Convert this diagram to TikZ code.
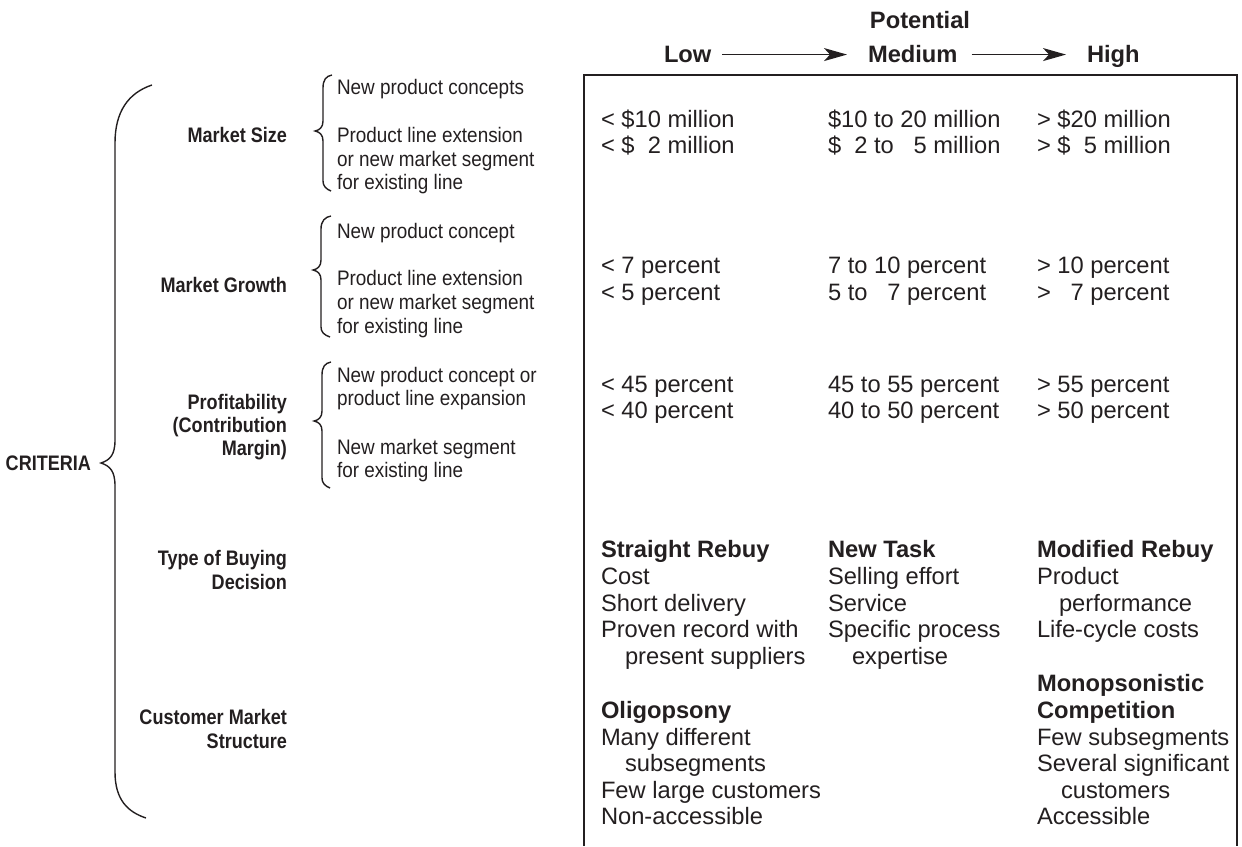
\documentclass[tikz,border=0pt]{standalone}
\usepackage{fontspec}
\setmainfont{Liberation Sans}
\newfontfamily\condreg[FakeStretch=0.9]{Liberation Sans}
\newfontfamily\condbold[FakeStretch=0.86]{Liberation Sans Bold}
\usetikzlibrary{arrows.meta}
\definecolor{ink}{RGB}{35,31,32}
\begin{document}
\begin{tikzpicture}[x=1pt,y=-1pt,
  every node/.style={inner sep=0pt,outer sep=0pt,text=ink},
  lbl/.style={anchor=base east,font=\condbold\fontsize{21}{23}\selectfont},
  sub/.style={anchor=base west,font=\condreg\fontsize{21}{23}\selectfont},
  cell/.style={anchor=base west,font=\fontsize{23.7}{26}\selectfont},
  head/.style={anchor=base west,font=\bfseries\fontsize{23.7}{26}\selectfont},
  bracket/.style={draw=ink,line width=1.4pt},
  frame/.style={draw=ink,line width=2pt},
  arr/.style={draw=ink,line width=1.4pt,-{Stealth[length=23pt,width=13pt,inset=6pt]}}]
\useasboundingbox (0,0) rectangle (1242,846);

% ---------- header scale ----------
\node[head] (low) at (664,62.6) {Low};
\node[head] (med) at (868,62.6) {Medium};
\node[head] (high) at (1087,62.6) {High};
\node[font=\bfseries\fontsize{23.7}{26}\selectfont,anchor=base] (pot) at (920,28.6) {Potential};
\draw[arr,shorten <=11pt,shorten >=21pt] (low.east) -- (low.east -| med.west);
\draw[arr,shorten <=14pt,shorten >=21pt] (med.east |- low.east) -- (low.east -| high.west);

% ---------- frame (open at the bottom) ----------
\draw[frame] (584,846) -- (584,75) -- (1237,75) -- (1237,846);

% ---------- criteria labels ----------
\node[lbl] (crit) at (91,470.5) {CRITERIA};
\node[lbl] (msize) at (287,142.5) {Market Size};
\node[lbl] (mgrow) at (287,292.5) {Market Growth};
\node[lbl] (prof1) at (287,409.5) {Profitability};
\node[lbl] (prof2) at (287,432.5) {(Contribution};
\node[lbl] (prof3) at (287,455.5) {Margin)};
\node[lbl] (buy1) at (287,565.5) {Type of Buying};
\node[lbl] (buy2) at (287,589.5) {Decision};
\node[lbl] (cms1) at (287,724.5) {Customer Market};
\node[lbl] (cms2) at (287,748.5) {Structure};

% ---------- large brace ----------
\draw[bracket] (152,85) .. controls (128,93) and (115,112) .. (115,143)
  -- (115,440) .. controls (115,455) and (110,460) .. (101,463)
  .. controls (110,466) and (115,471) .. (115,486)
  -- (115,772) .. controls (115,800) and (128,812) .. (146,818);

% ---------- small braces ----------
\draw[bracket] (332,75) .. controls (326,76) and (323,80) .. (323,88)
  -- (323,121) .. controls (323,127) and (320,130) .. (315,131)
  .. controls (320,132) and (323,135) .. (323,141)
  -- (323,181) .. controls (323,186) and (326,189) .. (331,191);
\draw[bracket] (331,216) .. controls (325,217) and (321,221) .. (321,229)
  -- (321,260) .. controls (321,266) and (318,269) .. (313,270)
  .. controls (318,271) and (321,274) .. (321,280)
  -- (321,327) .. controls (321,332) and (324,335) .. (330,337);
\draw[bracket] (331,362) .. controls (325,363) and (322,367) .. (322,375)
  -- (322,411) .. controls (322,417) and (319,420) .. (314,421)
  .. controls (319,422) and (322,425) .. (322,431)
  -- (322,478) .. controls (322,483) and (325,486) .. (330,488);

% ---------- sub-items ----------
\node[sub] (s1a) at (337,94.5) {New product concepts};
\node[sub] (s1b) at (337,142.5) {Product line extension};
\node[sub] (s1c) at (337,166.5) {or new market segment};
\node[sub] (s1d) at (337,189.5) {for existing line};
\node[sub] (s2a) at (337,238.5) {New product concept};
\node[sub] (s2b) at (337,285.5) {Product line extension};
\node[sub] (s2c) at (337,309.5) {or new market segment};
\node[sub] (s2d) at (337,333.5) {for existing line};
\node[sub] (s3a) at (337,382.5) {New product concept or};
\node[sub] (s3b) at (337,405.5) {product line expansion};
\node[sub] (s3c) at (337,454.5) {New market segment};
\node[sub] (s3d) at (337,477.5) {for existing line};

% ---------- table: market size ----------
\node[cell] (a11) at (601,127.5) {< \$10 million};
\node[cell] (a12) at (601,153.5) {< \$\hphantom{1}2 million};
\node[cell] (b11) at (828,127.5) {\$10 to 20 million};
\node[cell] (b12) at (828,153.5) {\$\hphantom{1}2 to \hphantom{2}5 million};
\node[cell] (c11) at (1037,127.5) {> \$20 million};
\node[cell] (c12) at (1037,153.5) {> \$\hphantom{2}5 million};

% ---------- table: market growth ----------
\node[cell] (a21) at (601,273.5) {< 7 percent};
\node[cell] (a22) at (601,300) {< 5 percent};
\node[cell] (b21) at (828,273.5) {7 to 10 percent};
\node[cell] (b22) at (828,300) {5 to \hphantom{1}7 percent};
\node[cell] (c21) at (1037,273.5) {> 10 percent};
\node[cell] (c22) at (1037,300) {> \hphantom{1}7 percent};

% ---------- table: profitability ----------
\node[cell] (a31) at (601,392.5) {< 45 percent};
\node[cell] (a32) at (601,418.5) {< 40 percent};
\node[cell] (b31) at (828,392.5) {45 to 55 percent};
\node[cell] (b32) at (828,418.5) {40 to 50 percent};
\node[cell] (c31) at (1037,392.5) {> 55 percent};
\node[cell] (c32) at (1037,418.5) {> 50 percent};

% ---------- table: buying decision ----------
\node[head] (a40) at (601,557) {Straight Rebuy};
\node[cell] (a41) at (601,584) {Cost};
\node[cell] (a42) at (601,611) {Short delivery};
\node[cell] (a43) at (601,637.5) {Proven record with};
\node[cell] (a44) at (625,664) {present suppliers};
\node[head] (b40) at (828,557) {New Task};
\node[cell] (b41) at (828,584) {Selling effort};
\node[cell] (b42) at (828,611) {Service};
\node[cell] (b43) at (828,637.5) {Specific process};
\node[cell] (b44) at (852,664) {expertise};
\node[head] (c40) at (1037,557) {Modified Rebuy};
\node[cell] (c41) at (1037,584) {Product};
\node[cell] (c42) at (1059,611) {performance};
\node[cell] (c43) at (1037,637.5) {Life-cycle costs};

% ---------- table: customer market structure ----------
\node[head] (a50) at (601,718.5) {Oligopsony};
\node[cell] (a51) at (601,745) {Many different};
\node[cell] (a52) at (625,771.5) {subsegments};
\node[cell] (a53) at (601,798) {Few large customers};
\node[cell] (a54) at (601,824.5) {Non-accessible};
\node[head] (c50) at (1037,691.5) {Monopsonistic};
\node[head] (c51) at (1037,718.5) {Competition};
\node[cell] (c52) at (1037,745) {Few subsegments};
\node[cell] (c53) at (1037,771.5) {Several significant};
\node[cell] (c54) at (1061,798) {customers};
\node[cell] (c55) at (1037,824.5) {Accessible};
\end{tikzpicture}
\end{document}
